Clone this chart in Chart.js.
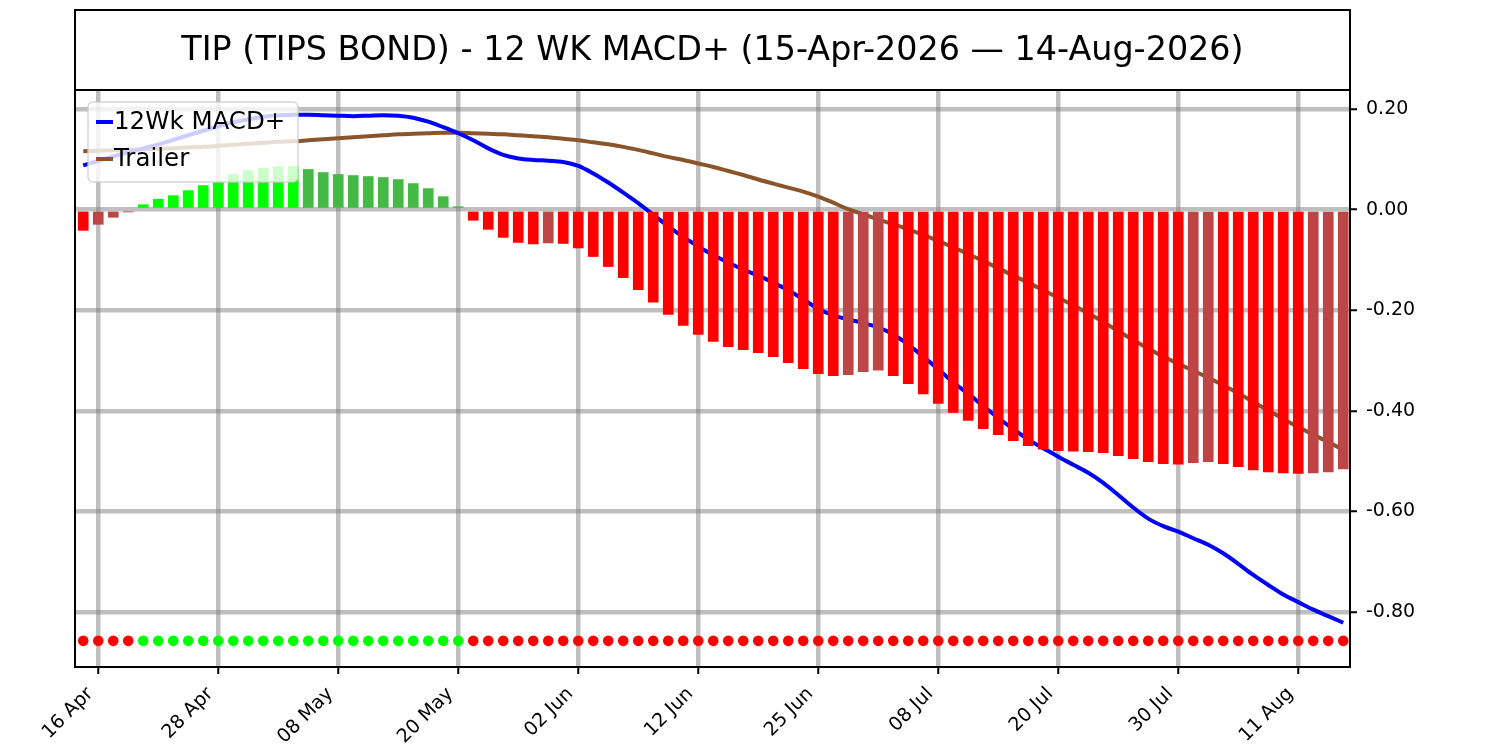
<!DOCTYPE html>
<html>
<head>
<meta charset="utf-8">
<script src="https://cdn.jsdelivr.net/npm/chart.js@4.4.1/dist/chart.umd.min.js"></script>
<style>
  html, body { margin: 0; padding: 0; background: #fff; }
  #contenedor { width: 1500px; height: 750px; }
</style>
</head>
<body>
<div id="contenedor"><canvas id="grafica" width="1500" height="750"></canvas></div>
<script>
const titulo = 'TIP (TIPS BOND) - 12 WK MACD+ (15-Apr-2026 \u2014 14-Aug-2026)';

// dias de mercado, 15 Apr - 14 Aug 2026
const fechas = [
  '15 Apr', '16 Apr', '17 Apr', '20 Apr', '21 Apr', '22 Apr', '23 Apr', '24 Apr', '27 Apr', '28 Apr', '29 Apr', '30 Apr',
  '01 May', '04 May', '05 May', '06 May', '07 May', '08 May', '11 May', '12 May', '13 May', '14 May', '15 May',
  '18 May', '19 May', '20 May', '21 May', '22 May', '26 May', '27 May', '28 May', '29 May',
  '01 Jun', '02 Jun', '03 Jun', '04 Jun', '05 Jun', '08 Jun', '09 Jun', '10 Jun', '11 Jun', '12 Jun',
  '15 Jun', '16 Jun', '17 Jun', '18 Jun', '22 Jun', '23 Jun', '24 Jun', '25 Jun', '26 Jun', '29 Jun', '30 Jun',
  '01 Jul', '02 Jul', '06 Jul', '07 Jul', '08 Jul', '09 Jul', '10 Jul', '13 Jul', '14 Jul', '15 Jul', '16 Jul', '17 Jul',
  '20 Jul', '21 Jul', '22 Jul', '23 Jul', '24 Jul', '27 Jul', '28 Jul', '29 Jul', '30 Jul', '31 Jul',
  '03 Aug', '04 Aug', '05 Aug', '06 Aug', '07 Aug', '10 Aug', '11 Aug', '12 Aug', '13 Aug', '14 Aug'
];

const histograma = [
  -0.041, -0.029, -0.015, -0.004, 0.010, 0.021, 0.028, 0.038, 0.048, 0.054,
  0.070, 0.078, 0.083, 0.0855, 0.086, 0.080, 0.074, 0.070, 0.068, 0.066,
  0.064, 0.060, 0.052, 0.042, 0.026, 0.006, -0.021, -0.039, -0.055, -0.065,
  -0.068, -0.066, -0.067, -0.076, -0.093, -0.113, -0.135, -0.159, -0.184, -0.208,
  -0.230, -0.248, -0.262, -0.272, -0.278, -0.284, -0.292, -0.304, -0.316, -0.326,
  -0.330, -0.328, -0.322, -0.319, -0.330, -0.346, -0.366, -0.385, -0.403, -0.419,
  -0.435, -0.447, -0.459, -0.469, -0.476, -0.479, -0.480, -0.481, -0.483, -0.489,
  -0.495, -0.501, -0.505, -0.506, -0.503, -0.501, -0.505, -0.511, -0.517, -0.521,
  -0.523, -0.524, -0.523, -0.521, -0.515
];

const macd = [
  0.088, 0.097, 0.106, 0.114, 0.122, 0.130, 0.139, 0.148, 0.157, 0.166,
  0.174, 0.180, 0.185, 0.188, 0.189, 0.189, 0.188, 0.187, 0.186, 0.187,
  0.188, 0.187, 0.183, 0.175, 0.164, 0.152, 0.138, 0.122, 0.109, 0.102,
  0.099, 0.0975, 0.095, 0.087, 0.072, 0.054, 0.034, 0.013, -0.010, -0.033,
  -0.054, -0.073, -0.090, -0.105, -0.119, -0.131, -0.145, -0.160, -0.178, -0.197,
  -0.210, -0.218, -0.225, -0.234, -0.248, -0.268, -0.292, -0.317, -0.343, -0.366,
  -0.390, -0.414, -0.436, -0.457, -0.474, -0.491, -0.507, -0.523, -0.543, -0.567,
  -0.592, -0.614, -0.629, -0.640, -0.653, -0.666, -0.683, -0.704, -0.726, -0.746,
  -0.765, -0.780, -0.795, -0.808, -0.821
];

const trailer = [
  0.116, 0.117, 0.118, 0.119, 0.120, 0.121, 0.122, 0.124, 0.125, 0.127,
  0.129, 0.131, 0.133, 0.135, 0.136, 0.138, 0.140, 0.142, 0.144, 0.146,
  0.148, 0.150, 0.151, 0.152, 0.153, 0.153, 0.152, 0.151, 0.150, 0.148,
  0.146, 0.144, 0.141, 0.138, 0.134, 0.130, 0.125, 0.119, 0.112, 0.105,
  0.099, 0.092, 0.085, 0.077, 0.069, 0.060, 0.052, 0.044, 0.036, 0.026,
  0.014, 0.001, -0.009, -0.019, -0.029, -0.039, -0.050, -0.062, -0.075, -0.088,
  -0.102, -0.116, -0.131, -0.145, -0.160, -0.175, -0.190, -0.206, -0.223, -0.241,
  -0.259, -0.276, -0.292, -0.306, -0.320, -0.334, -0.349, -0.365, -0.382, -0.399,
  -0.416, -0.432, -0.447, -0.462, -0.477
];

const etiquetasX = ['16 Apr', '28 Apr', '08 May', '20 May', '02 Jun', '12 Jun', '25 Jun', '08 Jul', '20 Jul', '30 Jul', '11 Aug'];
const ticksY = [-0.8, -0.6, -0.4, -0.2, 0, 0.2];

const NIVEL_PUNTOS = -0.857;
const FUENTE = '"DejaVu Sans", sans-serif';

function colorBarra(i) {
  const v = histograma[i];
  const previo = i > 0 ? histograma[i - 1] : null;
  if (v >= 0) {
    return (previo === null || v >= previo) ? '#00ff00' : '#45b945';
  }
  return (previo === null || v < previo) ? '#ff0000' : '#be4545';
}

const aPuntos = arr => arr.map((v, i) => ({ x: i, y: v }));

// caja del titulo, marco y leyenda dentro del area
const decoracion = {
  id: 'decoracion',
  afterDraw(chart) {
    const ctx = chart.ctx;
    const a = chart.chartArea;
    ctx.save();

    // leyenda
    const lx = 88, ly = 102, lw = 210, lh = 80, r = 5;
    ctx.beginPath();
    ctx.moveTo(lx + r, ly);
    ctx.arcTo(lx + lw, ly, lx + lw, ly + lh, r);
    ctx.arcTo(lx + lw, ly + lh, lx, ly + lh, r);
    ctx.arcTo(lx, ly + lh, lx, ly, r);
    ctx.arcTo(lx, ly, lx + lw, ly, r);
    ctx.closePath();
    ctx.fillStyle = 'rgba(255,255,255,0.8)';
    ctx.fill();
    ctx.strokeStyle = 'rgba(204,204,204,0.8)';
    ctx.lineWidth = 1.5;
    ctx.stroke();

    const items = [chart.data.datasets[1], chart.data.datasets[2]];
    ctx.font = '24.5px ' + FUENTE;
    ctx.textBaseline = 'middle';
    ctx.textAlign = 'left';
    items.forEach((ds, k) => {
      const y = 122 + k * 37;
      ctx.strokeStyle = ds.borderColor;
      ctx.lineWidth = 4;
      ctx.beginPath();
      ctx.moveTo(96, y);
      ctx.lineTo(113, y);
      ctx.stroke();
      ctx.fillStyle = '#000';
      ctx.fillText(ds.label, 114, y + 1);
    });

    // marco del grafico
    ctx.strokeStyle = '#000';
    ctx.lineWidth = 2;
    ctx.strokeRect(a.left, a.top, a.right - a.left, a.bottom - a.top);

    // titulo
    ctx.strokeRect(a.left, 10, a.right - a.left, a.top - 10);
    ctx.fillStyle = '#000';
    ctx.font = '33.4px ' + FUENTE;
    ctx.textAlign = 'center';
    ctx.textBaseline = 'middle';
    ctx.fillText(titulo, (a.left + a.right) / 2, (10 + a.top) / 2 + 1.5);
    ctx.restore();
  }
};

const ctx = document.getElementById('grafica').getContext('2d');

new Chart(ctx, {
  type: 'bar',
  data: {
    datasets: [
      {
        type: 'bar',
        label: 'Histograma',
        data: aPuntos(histograma),
        backgroundColor: c => colorBarra(c.dataIndex),
        borderWidth: 0,
        barThickness: 10,
        order: 0
      },
      {
        type: 'line',
        label: '12Wk MACD+',
        data: aPuntos(macd),
        borderColor: '#0000ff',
        borderWidth: 4,
        pointRadius: 0,
        cubicInterpolationMode: 'monotone',
        order: 1
      },
      {
        type: 'line',
        label: 'Trailer',
        data: aPuntos(trailer),
        borderColor: '#8a552b',
        borderWidth: 4,
        pointRadius: 0,
        cubicInterpolationMode: 'monotone',
        order: 2
      },
      {
        type: 'line',
        label: 'Senal',
        data: fechas.map((f, i) => ({ x: i, y: NIVEL_PUNTOS })),
        showLine: false,
        pointRadius: 5.3,
        pointBorderWidth: 0,
        pointBackgroundColor: c => histograma[c.dataIndex] >= 0 ? '#00ff00' : '#ff0000',
        order: -1
      }
    ]
  },
  options: {
    responsive: false,
    devicePixelRatio: 1,
    animation: false,
    layout: { padding: { left: 75, top: 90, right: 0, bottom: 0 } },
    plugins: {
      legend: { display: false },
      title: { display: false },
      tooltip: { enabled: false }
    },
    scales: {
      x: {
        type: 'linear',
        offset: false,
        min: -0.55,
        max: 84.45,
        afterFit: s => { s.height = 83; },
        afterBuildTicks: s => { s.ticks = etiquetasX.map(l => ({ value: fechas.indexOf(l) })); },
        grid: { offset: false, color: 'rgba(128,128,128,0.5)', lineWidth: 4.5, tickColor: '#000', tickLength: 7, tickWidth: 2 },
        border: { display: false },
        ticks: {
          autoSkip: false,
          minRotation: 45,
          maxRotation: 45,
          padding: 9,
          labelOffset: -8,
          color: '#000',
          font: { family: FUENTE, size: 19 },
          callback: v => fechas[v]
        }
      },
      y: {
        position: 'right',
        min: -0.909,
        max: 0.238,
        afterFit: s => { s.width = 150; },
        afterBuildTicks: s => { s.ticks = ticksY.map(v => ({ value: v })); },
        grid: { color: 'rgba(128,128,128,0.5)', lineWidth: 4.5, tickColor: '#000', tickLength: 7, tickWidth: 2 },
        border: { display: false },
        ticks: {
          padding: 9,
          color: '#000',
          font: { family: FUENTE, size: 19 },
          callback: v => v.toFixed(2)
        }
      }
    }
  },
  plugins: [decoracion]
});
</script>
</body>
</html>
